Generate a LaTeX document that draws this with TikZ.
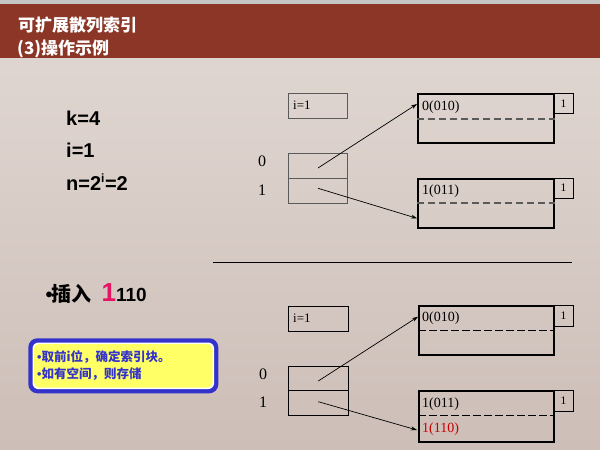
\documentclass[tikz,border=0pt]{standalone}
\usepackage{fontspec}
\setmainfont{Liberation Serif}
\newfontfamily\arialf{Liberation Sans}
\newfontfamily\cjk{Noto Sans CJK SC}
\usetikzlibrary{arrows.meta}
\definecolor{barc}{RGB}{139,54,38}
\definecolor{bgtop}{RGB}{226,217,212}
\definecolor{bgbot}{RGB}{205,190,183}
\definecolor{pinkc}{RGB}{230,20,100}
\definecolor{bluec}{RGB}{51,51,204}
\definecolor{yelc}{RGB}{255,255,102}
\definecolor{dgray}{RGB}{90,90,90}
\definecolor{redc}{RGB}{200,0,0}
\begin{document}
\begin{tikzpicture}[x=1pt,y=-1pt,
  titletext/.style={text=white,font=\cjk\bfseries\fontsize{17}{20}\selectfont,anchor=west,inner sep=0},
  bigtext/.style={font=\arialf\bfseries\fontsize{20}{24}\selectfont,anchor=west,inner sep=0},
  idxlabel/.style={font=\fontsize{16}{18}\selectfont,inner sep=0},
  ibox/.style={draw,anchor=north west,inner sep=0,minimum width=59pt,minimum height=25pt},
  bucket/.style={draw,line width=2pt,anchor=north west,inner sep=0,minimum width=136pt,minimum height=49pt},
  cntbox/.style={draw,line width=0.8pt,anchor=north west,inner sep=0,minimum width=20pt,minimum height=20pt,font=\fontsize{11.5}{13}\selectfont},
  btext/.style={font=\fontsize{14}{16}\selectfont,anchor=west,inner sep=0},
  ptr/.style={line width=0.7pt,-{Stealth[length=6pt,width=4pt]}},
  note/.style={text=bluec,font=\cjk\bfseries\fontsize{12.5}{15}\selectfont,anchor=west,inner sep=0}
]
\useasboundingbox (0,0) rectangle (600,450);
\shade[top color=bgtop,bottom color=bgbot] (0,0) rectangle (600,450);
\fill[gray!45] (0,0) rectangle (600,3.5);
\fill[barc] (0,3.5) rectangle (600,58.3);
\node[titletext] (t1) at (18,25) {可扩展散列索引};
\node[titletext] (t2) at (17,49.3) {(3)操作示例};

\node[bigtext] (k) at (66,118.7) {k=4};
\node[bigtext] (iv) at (66,150.7) {i=1};
\node[bigtext] (nv) at (66,182) {n=2\textsuperscript{\fontsize{12}{12}\selectfont i}=2};

\node[anchor=west,inner sep=0] (ins) at (45.5,294) {{\arialf\bfseries\fontsize{20}{24}\selectfont •}\hspace{-1pt}{\cjk\bfseries\fontsize{20}{24}\selectfont 插入}\hspace{10pt}{\arialf\bfseries\fontsize{26}{28}\selectfont\textcolor{pinkc}{1}}{\arialf\bfseries\fontsize{19}{22}\selectfont 110}};

% note box
\fill[bluec,rounded corners=9pt] (28.3,338.3) rectangle (218.3,393.3);
\fill[white,rounded corners=6pt] (32.5,342.5) rectangle (214.1,389.1);
\fill[yelc,rounded corners=5pt] (34,344) rectangle (212.6,387.6);
\node[note] (n1) at (37,356.7) {{\arialf •}取前i位，确定索引块。};
\node[note] (n2) at (37,374.3) {{\arialf •}如有空间，则存储};

% separator
\draw[line width=1.5pt] (213.3,262.3) -- (571.7,262.3);

% ===== top =====
\node[ibox,draw=dgray,line width=1.3pt] (ia) at (288,92.7) {};
\node[anchor=west,inner sep=0,font=\fontsize{13}{15}\selectfont] (iat) at (293,105.2) {i=1};
\node[ibox,draw=dgray,line width=1.3pt] (xa0) at (288,152.7) {};
\node[ibox,draw=dgray,line width=1.3pt] (xa1) at (288,177.7) {};
\node[idxlabel] (la0) at (262,161.7) {0};
\node[idxlabel] (la1) at (262,190) {1};

\node[bucket] (ba0) at (417,93.3) {};
\draw[dgray,line width=1.6pt,dash pattern=on 7pt off 4pt] (ba0.west) -- (ba0.east);
\node[cntbox] (ca0) at (553,93.3) {1};
\node[btext] (ta0) at (422,106.7) {0(010)};

\node[bucket] (ba1) at (417,177.7) {};
\draw[dgray,line width=1.6pt,dash pattern=on 7pt off 4pt] (ba1.west) -- (ba1.east);
\node[cntbox] (ca1) at (553,177.7) {1};
\node[btext] (ta1) at (422,191) {1(011)};

\coordinate (sa0) at (318,168);
\coordinate (sa1) at (318,188.3);
\coordinate (ea0) at (417,104);
\coordinate (ea1) at (417,218.3);
\draw[ptr] (sa0) -- (ea0);
\draw[ptr] (sa1) -- (ea1);

% ===== bottom =====
\node[ibox,line width=1pt,minimum width=60pt] (ib) at (288,305.7) {};
\node[anchor=west,inner sep=0,font=\fontsize{13}{15}\selectfont] (ibt) at (293,318) {i=1};
\node[ibox,line width=1pt,minimum width=60pt,minimum height=24.3pt] (xb0) at (288,366) {};
\node[ibox,line width=1pt,minimum width=60pt] (xb1) at (288,390.3) {};
\node[idxlabel] (lb0) at (263,374.3) {0};
\node[idxlabel] (lb1) at (263,402.7) {1};

\node[bucket,minimum width=135pt] (bb0) at (418,305) {};
\draw[line width=1pt,dash pattern=on 8pt off 3pt] (bb0.west) -- (bb0.east);
\node[cntbox,minimum height=21pt] (cb0) at (553,305) {1};
\node[btext] (tb0) at (422,318.3) {0(010)};

\node[bucket,minimum width=135pt,minimum height=50.7pt] (bb1) at (418,390) {};
\draw[line width=1pt,dash pattern=on 8pt off 3pt] (418,415) -- (553,415);
\node[cntbox,minimum height=21pt] (cb1) at (553,390) {1};
\node[btext] (tb1) at (422,404) {1(011)};
\node[btext,text=redc] (tb2) at (422,429.3) {1(110)};

\coordinate (sb0) at (318.3,381);
\coordinate (sb1) at (318.3,401.7);
\coordinate (eb0) at (418,316.7);
\coordinate (eb1) at (417,430);
\draw[ptr] (sb0) -- (eb0);
\draw[ptr] (sb1) -- (eb1);
\end{tikzpicture}
\end{document}
